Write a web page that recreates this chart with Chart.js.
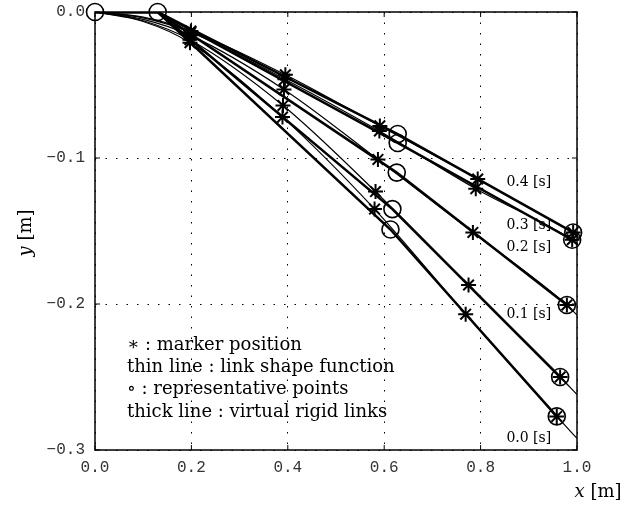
<!DOCTYPE html>
<html>
<head>
<meta charset="utf-8">
<script src="https://cdn.jsdelivr.net/npm/chart.js@4/dist/chart.umd.min.js"></script>
<style>
  html, body { margin: 0; padding: 0; background: #fff; }
  #wrap { width: 627px; height: 505px; }
</style>
</head>
<body>
<div id="wrap"><canvas id="linkChart" width="627" height="505"></canvas></div>
<script>
// time labels of the five snapshots
times = ['0.0', '0.1', '0.2', '0.3', '0.4'];

// representative points (circles): base link end shared by all
baseX = [0.0, 0.13];
baseY = [0.0, 0.0];
midX = [0.613, 0.617, 0.626, 0.628, 0.628];
midY = [-0.149, -0.135, -0.110, -0.0897, -0.0836];
endX = [0.958, 0.965, 0.979, 0.990, 0.992];
endY = [-0.277, -0.250, -0.2007, -0.156, -0.151];

// marker positions (stars), one row per snapshot
starX = [
    [0.197, 0.389, 0.580, 0.769, 0.958],
    [0.197, 0.390, 0.582, 0.775, 0.965],
    [0.198, 0.392, 0.587, 0.784, 0.979],
    [0.199, 0.394, 0.590, 0.790, 0.990],
    [0.199, 0.395, 0.591, 0.794, 0.992]
];
starY = [
    [-0.021, -0.072, -0.135, -0.207, -0.277],
    [-0.019, -0.064, -0.123, -0.187, -0.250],
    [-0.016, -0.053, -0.101, -0.151, -0.2007],
    [-0.014, -0.046, -0.0815, -0.121, -0.156],
    [-0.013, -0.043, -0.078, -0.1144, -0.151]
];

// link shape function: value near the base and where it leaves the frame
shapeX0 = 0.1;
shapeY0 = [-0.0065, -0.006, -0.005, -0.004, -0.0035];
shapeYEdge = [-0.292, -0.262, -0.2075, -0.1585, -0.1525];

// tick labels
xTicks = [0.0, 0.2, 0.4, 0.6, 0.8, 1.0];
yTicks = [0.0, -0.1, -0.2, -0.3];

// where the time labels sit (data coords)
labelX = [0.90, 0.90, 0.90, 0.90, 0.90];
labelY = [-0.292, -0.207, -0.161, -0.146, -0.1165];

legendLines = [
    '\u2217 : marker position',
    'thin line : link shape function',
    '\u2218 : representative points',
    'thick line : virtual rigid links'
];

const datasets = [];

for (let i = 0; i < times.length; i++) {
    // thin line
    const thin = [{x: 0, y: 0}, {x: shapeX0, y: shapeY0[i]}];
    for (let k = 0; k < starX[i].length; k++) {
        thin.push({x: starX[i][k], y: starY[i][k]});
    }
    thin.push({x: 1.0, y: shapeYEdge[i]});
    datasets.push({
        data: thin,
        showLine: true,
        borderColor: '#000',
        borderWidth: 1.2,
        pointRadius: 0,
        cubicInterpolationMode: 'monotone'
    });

    // thick line
    datasets.push({
        data: [
            {x: baseX[0], y: baseY[0]},
            {x: baseX[1], y: baseY[1]},
            {x: midX[i], y: midY[i]},
            {x: endX[i], y: endY[i]}
        ],
        showLine: true,
        borderColor: '#000',
        borderWidth: 2.5,
        pointRadius: 0,
        tension: 0
    });
}

// circles
const circ = [];
for (let k = 0; k < baseX.length; k++) circ.push({x: baseX[k], y: baseY[k]});
for (let i = 0; i < times.length; i++) {
    circ.push({x: midX[i], y: midY[i]});
    circ.push({x: endX[i], y: endY[i]});
}
datasets.push({
    data: circ,
    showLine: false,
    pointStyle: 'circle',
    pointRadius: 8.5,
    pointBorderWidth: 1.6,
    pointBorderColor: '#000',
    pointBackgroundColor: 'rgba(0,0,0,0)',
    clip: false
});

// stars
for (let i = 0; i < times.length; i++) {
    const pts = [];
    for (let k = 0; k < starX[i].length; k++) pts.push({x: starX[i][k], y: starY[i][k]});
    datasets.push({
        data: pts,
        showLine: false,
        pointStyle: 'star',
        pointRadius: 7.5,
        pointBorderWidth: 2,
        pointBorderColor: '#000',
        pointBackgroundColor: '#000',
        clip: false
    });
}

// frame, inner ticks and all the text
const decor = {
    id: 'decor',
    beforeDatasetsDraw(chart) {
        const ctx = chart.ctx;
        const a = chart.chartArea;
        const xs = chart.scales.x, ys = chart.scales.y;
        ctx.save();
        ctx.strokeStyle = '#000';
        ctx.lineWidth = 1.5;
        ctx.strokeRect(a.left, a.top, a.right - a.left, a.bottom - a.top);
        ctx.lineWidth = 1;
        ctx.beginPath();
        xTicks.forEach(v => {
            const p = xs.getPixelForValue(v);
            ctx.moveTo(p, a.bottom); ctx.lineTo(p, a.bottom - 5);
            ctx.moveTo(p, a.top); ctx.lineTo(p, a.top + 5);
        });
        yTicks.forEach(v => {
            const p = ys.getPixelForValue(v);
            ctx.moveTo(a.left, p); ctx.lineTo(a.left + 5, p);
            ctx.moveTo(a.right, p); ctx.lineTo(a.right - 5, p);
        });
        ctx.stroke();
        ctx.restore();
    },
    afterDraw(chart) {
        const ctx = chart.ctx;
        const a = chart.chartArea;
        const xs = chart.scales.x, ys = chart.scales.y;
        ctx.save();
        ctx.fillStyle = '#000';
        ctx.textBaseline = 'middle';

        // time labels
        ctx.font = '14px "DejaVu Serif"';
        ctx.textAlign = 'center';
        for (let i = 0; i < times.length; i++) {
            ctx.fillText(times[i] + ' [s]', xs.getPixelForValue(labelX[i]), ys.getPixelForValue(labelY[i]));
        }

        // legend block
        ctx.font = '18px "DejaVu Serif"';
        ctx.textAlign = 'left';
        legendLines.forEach((t, k) => {
            ctx.fillText(t, a.left + 32, a.top + 333 + k * 22.3);
        });

        // axis titles
        ctx.font = 'italic 18px "DejaVu Serif"';
        const xw = ctx.measureText('x').width;
        ctx.font = '18px "DejaVu Serif"';
        const rw = ctx.measureText(' [m]').width;
        let x0 = 598 - (xw + rw) / 2;
        ctx.font = 'italic 18px "DejaVu Serif"';
        ctx.fillText('x', x0, 492);
        ctx.font = '18px "DejaVu Serif"';
        ctx.fillText(' [m]', x0 + xw, 492);

        ctx.translate(26, 233);
        ctx.rotate(-Math.PI / 2);
        ctx.font = 'italic 18px "DejaVu Serif"';
        const yw = ctx.measureText('y').width;
        x0 = -(yw + rw) / 2;
        ctx.fillText('y', x0, 0);
        ctx.font = '18px "DejaVu Serif"';
        ctx.fillText(' [m]', x0 + yw, 0);
        ctx.restore();
    }
};

const tickFont = {family: '"Liberation Mono", monospace', size: 16};

new Chart('linkChart', {
    type: 'scatter',
    data: {datasets: datasets},
    options: {
        responsive: false,
        animation: false,
        layout: {padding: {top: 12, right: 50, left: 0, bottom: 0}},
        plugins: {legend: {display: false}, tooltip: {enabled: false}},
        scales: {
            x: {
                type: 'linear',
                min: 0, max: 1,
                afterFit: s => { s.height = 55; s.paddingLeft = 0; s.paddingRight = 0; },
                afterBuildTicks: s => { s.ticks = xTicks.map(v => ({value: v})); },
                ticks: {
                    color: '#333', font: tickFont, padding: 8, maxRotation: 0, autoSkip: false,
                    callback: v => v.toFixed(1)
                },
                grid: {color: '#000', lineWidth: 1, drawTicks: false},
                border: {display: false, dash: [1.5, 9]}
            },
            y: {
                type: 'linear',
                min: -0.3, max: 0,
                afterFit: s => { s.width = 95; s.paddingTop = 0; s.paddingBottom = 0; },
                afterBuildTicks: s => { s.ticks = yTicks.map(v => ({value: v})); },
                ticks: {
                    color: '#333', font: tickFont, padding: 10, autoSkip: false,
                    callback: v => (v < 0 ? '\u2212' : '') + Math.abs(v).toFixed(1)
                },
                grid: {color: '#000', lineWidth: 1, drawTicks: false},
                border: {display: false, dash: [1.5, 9]}
            }
        }
    },
    plugins: [decor]
});
</script>
</body>
</html>
